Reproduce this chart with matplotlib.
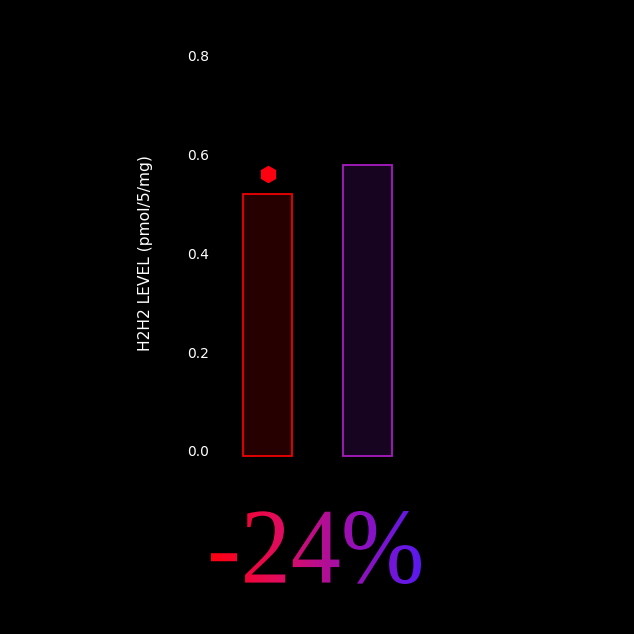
import matplotlib.pyplot as plt
import numpy as np
from matplotlib.textpath import TextPath
from matplotlib.patches import PathPatch
from matplotlib.font_manager import FontProperties
from matplotlib.colors import LinearSegmentedColormap
from matplotlib.transforms import Affine2D

# Data
groups = ['A', 'B']
levels = [0.52, 0.58]
marker_value = 0.56
y_ticks = [0.0, 0.2, 0.4, 0.6, 0.8]
big_label = '-24%'

face_colors = ['#260000', '#170420']
edge_colors = ['#f00000', '#a81cc0']
bar_base = -0.011  # bars start a few pixels under the zero label

fig = plt.figure(figsize=(6.34, 6.34), dpi=100, facecolor='black')

# main bar axes (0 at px 450.7, 0.8 at px 56)
ax = fig.add_axes([215 / 634, (634 - 450.7) / 634, 205 / 634, 394.7 / 634])
ax.set_facecolor('black')
x = np.arange(len(groups))
heights = [v - bar_base for v in levels]
ax.bar(x, heights, bottom=bar_base, width=0.49, color=face_colors,
       edgecolor=edge_colors, linewidth=1.3, clip_on=False)
ax.plot([x[0]], [marker_value], marker='h', markersize=11.5, color='#ff0010',
        linestyle='none', clip_on=False)

ax.set_xlim(-0.525, 1.525)
ax.set_ylim(0, 0.8)
ax.set_yticks(y_ticks)
ax.set_yticklabels([f'{t:.1f}' for t in y_ticks], color='white', fontsize=10,
                   family='DejaVu Sans')
ax.tick_params(axis='y', length=0, pad=4)
ax.set_xticks([])
for s in ax.spines.values():
    s.set_visible(False)
ax.set_ylabel('H2H2 LEVEL (pmol/5/mg)', color='white', fontsize=11.2,
              labelpad=25)

# gradient big text
tax = fig.add_axes([0, 0, 1, 1])
tax.set_xlim(0, 634)
tax.set_ylim(0, 634)
tax.axis('off')
tax.patch.set_alpha(0)

fp = FontProperties(family='Liberation Serif')
tp = TextPath((0, 0), big_label, size=100, prop=fp)
bb = tp.get_extents()
x0, x1 = 211, 421
y_top, y_bot = 634 - 511, 634 - 584
sx = (x1 - x0) / bb.width
sy = (y_top - y_bot) / bb.height
tr = Affine2D().translate(-bb.x0, -bb.y0).scale(sx, sy).translate(x0, y_bot)
path = tr.transform_path(tp)
patch = PathPatch(path, facecolor='none', edgecolor='none')
tax.add_patch(patch)

cmap = LinearSegmentedColormap.from_list('grad', ['#ff0010', '#e00c60', '#9810b4', '#5a1af0'])
grad = np.linspace(0, 1, 256).reshape(1, -1)
img = tax.imshow(grad, cmap=cmap, aspect='auto', extent=[x0, x1, y_bot, y_top],
                 interpolation='bicubic')
img.set_clip_path(patch)

fig.savefig('out.png', dpi=100, facecolor='black')
